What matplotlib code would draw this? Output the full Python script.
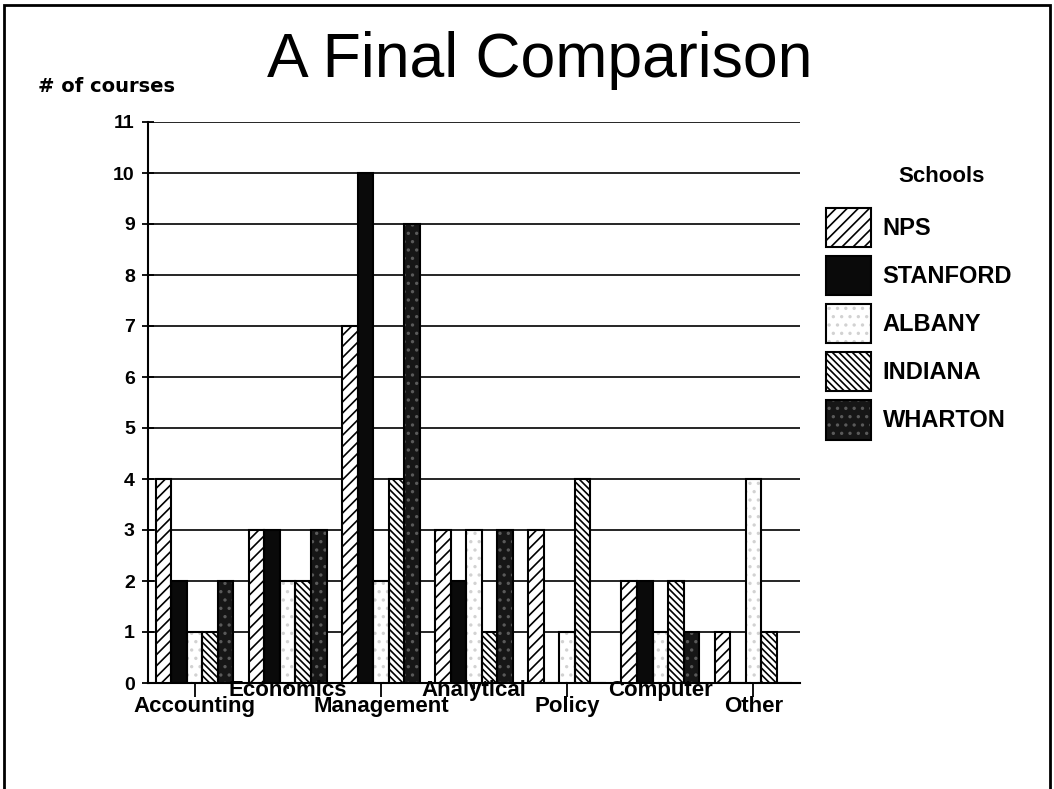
import numpy as np
import matplotlib
matplotlib.use("Agg")
import matplotlib.pyplot as plt
from matplotlib.patches import Patch, Rectangle
from matplotlib.legend_handler import HandlerTuple
import matplotlib.transforms as mtransforms

plt.rcParams['font.family'] = ['Liberation Sans', 'DejaVu Sans']
plt.rcParams['hatch.linewidth'] = 1.2

# data
categories = ['Accounting', 'Economics', 'Management', 'Analytical',
              'Policy', 'Computer', 'Other']
schools = ['NPS', 'STANFORD', 'ALBANY', 'INDIANA', 'WHARTON']
nps = [4, 3, 7, 3, 3, 2, 1]
stanford = [2, 3, 10, 2, 0, 2, 0]
albany = [1, 2, 2, 3, 1, 1, 4]
indiana = [1, 2, 4, 1, 4, 2, 1]
wharton = [2, 3, 9, 3, 0, 1, 0]
y_ticks = list(range(0, 12))

series = [nps, stanford, albany, indiana, wharton]

# (face, hatch, hatch colour) for each school
styles = [
    ('white', '///', 'black'),
    ('#0a0a0a', '', 'black'),
    ('white', '..', '#d2d2d2'),
    ('white', '\\\\\\\\\\', 'black'),
    ('#161616', '..', '#5a5a5a'),
]

fig = plt.figure(figsize=(10.54, 7.89), dpi=100)
ax = fig.add_axes([148 / 1054, 1 - 683 / 789, 652 / 1054, 561 / 789])

x = np.arange(len(categories))
w = 1 / 6
handles = []
for i, vals in enumerate(series):
    face, hatch, hcol = styles[i]
    pos = x + (i - 2) * w
    # hatch layer, then the black outline on top
    ax.bar(pos, vals, w, color=face, hatch=hatch, edgecolor=hcol,
           linewidth=0, zorder=3)
    ax.bar(pos, vals, w, facecolor='none', edgecolor='black',
           linewidth=1.5, zorder=4)
    handles.append((Patch(facecolor=face, hatch=hatch, edgecolor=hcol, linewidth=0),
                    Patch(facecolor='none', edgecolor='black', linewidth=1.5)))

ax.set_xlim(-0.5, 6.5)
ax.set_ylim(0, 11)
ax.set_yticks(y_ticks)
ax.set_yticklabels([str(v) for v in y_ticks], fontsize=14, fontweight='bold')
ax.tick_params(axis='y', direction='inout', length=9, width=1.3, pad=5)
for v in y_ticks[1:]:
    ax.axhline(v, color='black', linewidth=1.2, zorder=1)

for s in ['top', 'right']:
    ax.spines[s].set_visible(False)
ax.spines['left'].set_linewidth(1.5)
ax.spines['bottom'].set_linewidth(1.5)

# long ticks under the lower labels, short ones under the raised labels
ax.set_xticks(x[::2])
ax.set_xticks(x[1::2], minor=True)
ax.set_xticklabels([])
ax.tick_params(axis='x', which='major', direction='out', length=10, width=1.3)
ax.tick_params(axis='x', which='minor', direction='out', length=4, width=1.3)

trans = mtransforms.blended_transform_factory(ax.transData, ax.transAxes)
for i, name in enumerate(categories):
    yy = -0.041 if i % 2 == 0 else -0.014
    ax.text(i, yy, name, transform=trans, ha='center', va='center',
            fontsize=16, fontweight='bold', zorder=5)

fig.text(540 / 1054, 1 - 60 / 789, 'A Final Comparison', ha='center',
         va='center', fontsize=45)
fig.text(106 / 1054, 1 - 86 / 789, '# of courses', ha='center', va='center',
         fontsize=14, fontweight='bold', family=['DejaVu Sans'])

leg = ax.legend(handles, schools, handler_map={tuple: HandlerTuple(ndivide=1)},
                loc='upper left', bbox_to_anchor=(814 / 1054, 1 - 196 / 789),
                bbox_transform=fig.transFigure, frameon=False,
                fontsize=17, handlelength=1.9,
                handleheight=2.2, labelspacing=0.36, handletextpad=0.5,
                borderpad=0)
for t in leg.get_texts():
    t.set_fontweight('bold')
fig.text(942 / 1054, 1 - 177 / 789, 'Schools', ha='center', va='center',
         fontsize=16, fontweight='bold')

# outer frame
fig.add_artist(Rectangle((4 / 1054, -0.1), 1046 / 1054, 1.1 - 5 / 789,
                         transform=fig.transFigure, fill=False,
                         edgecolor='black', linewidth=2, clip_on=False))

fig.savefig('out.png', dpi=100)
